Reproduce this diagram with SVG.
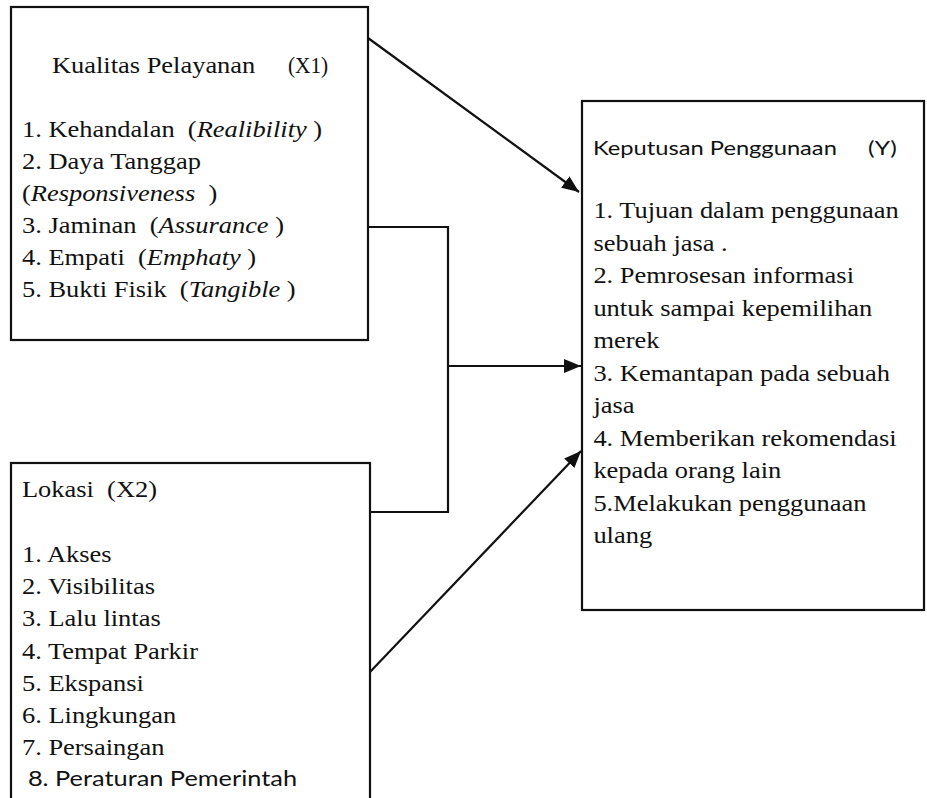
<svg xmlns="http://www.w3.org/2000/svg" width="927" height="798" viewBox="0 0 927 798">
<style>
.box{fill:#fff;stroke:#111;stroke-width:2.2}
.ln{fill:none;stroke:#111;stroke-width:2.2}
.t{font-family:"Liberation Serif","Times New Roman",serif;font-size:23px;fill:#111}
.s{font-family:Lato,"Open Sans",sans-serif;fill:#111}
.i{font-style:italic}
</style>
<defs>
<marker id="ah" markerUnits="userSpaceOnUse" markerWidth="18" markerHeight="14" refX="17" refY="7" orient="auto">
<path d="M0,0 L17,7 L0,14 z" fill="#111"/>
</marker>
</defs>
<rect width="927" height="798" fill="#fff"/>
<g id="connectors">
<line class="ln" x1="368" y1="38" x2="579" y2="192" marker-end="url(#ah)"/>
<polyline class="ln" points="368,227 448,227 448,512 370,512"/>
<line class="ln" x1="448" y1="366" x2="581" y2="366" marker-end="url(#ah)"/>
<line class="ln" x1="370" y1="672" x2="581" y2="451" marker-end="url(#ah)"/>
</g>
<g id="x1">
<rect class="box" x="11" y="7" width="357" height="333"/>
<g transform="scale(1.15,1)">
<text class="t" x="45.2" y="73">Kualitas Pelayanan</text>
<text class="t" x="250.4" y="73" textLength="35" lengthAdjust="spacingAndGlyphs">(X1)</text>
<text class="t" x="19.1" y="137" xml:space="preserve">1. Kehandalan  (<tspan class="i">Realibility</tspan> )</text>
<text class="t" x="19.1" y="169">2. Daya Tanggap</text>
<text class="t" x="19.1" y="201" xml:space="preserve">(<tspan class="i">Responsiveness</tspan>  )</text>
<text class="t" x="19.1" y="233" xml:space="preserve">3. Jaminan  (<tspan class="i">Assurance</tspan> )</text>
<text class="t" x="19.1" y="265" xml:space="preserve">4. Empati  (<tspan class="i">Emphaty</tspan> )</text>
<text class="t" x="19.1" y="297" xml:space="preserve">5. Bukti Fisik  (<tspan class="i">Tangible</tspan> )</text>
</g>
</g>
<g id="x2">
<rect class="box" x="11" y="463" width="359" height="345"/>
<g transform="scale(1.15,1)">
<text class="t" x="19.1" y="497" xml:space="preserve">Lokasi  (X2)</text>
<text class="t" x="19.1" y="562">1. Akses</text>
<text class="t" x="19.1" y="594">2. Visibilitas</text>
<text class="t" x="19.1" y="626">3. Lalu lintas</text>
<text class="t" x="19.1" y="659">4. Tempat Parkir</text>
<text class="t" x="19.1" y="691">5. Ekspansi</text>
<text class="t" x="19.1" y="723">6. Lingkungan</text>
<text class="t" x="19.1" y="755">7. Persaingan</text>
<text class="s" x="24.3" y="786" font-size="21" textLength="234" lengthAdjust="spacingAndGlyphs">8. Peraturan Pemerintah</text>
</g>
</g>
<g id="y">
<rect class="box" x="582" y="101" width="342" height="509"/>
<g transform="scale(1.15,1)">
<text class="s" x="515.7" y="155" font-size="19" textLength="212" lengthAdjust="spacingAndGlyphs">Keputusan Penggunaan</text>
<text class="s" x="754.8" y="155" font-size="19" textLength="25" lengthAdjust="spacingAndGlyphs">(Y)</text>
<text class="t" x="516" y="218">1. Tujuan dalam penggunaan</text>
<text class="t" x="516" y="251">sebuah jasa .</text>
<text class="t" x="516" y="283">2. Pemrosesan informasi</text>
<text class="t" x="516" y="316">untuk sampai kepemilihan</text>
<text class="t" x="516" y="348">merek</text>
<text class="t" x="516" y="381">3. Kemantapan pada sebuah</text>
<text class="t" x="516" y="413">jasa</text>
<text class="t" x="516" y="446">4. Memberikan rekomendasi</text>
<text class="t" x="516" y="478">kepada orang lain</text>
<text class="t" x="516" y="511">5.Melakukan penggunaan</text>
<text class="t" x="516" y="543">ulang</text>
</g>
</g>
</svg>
